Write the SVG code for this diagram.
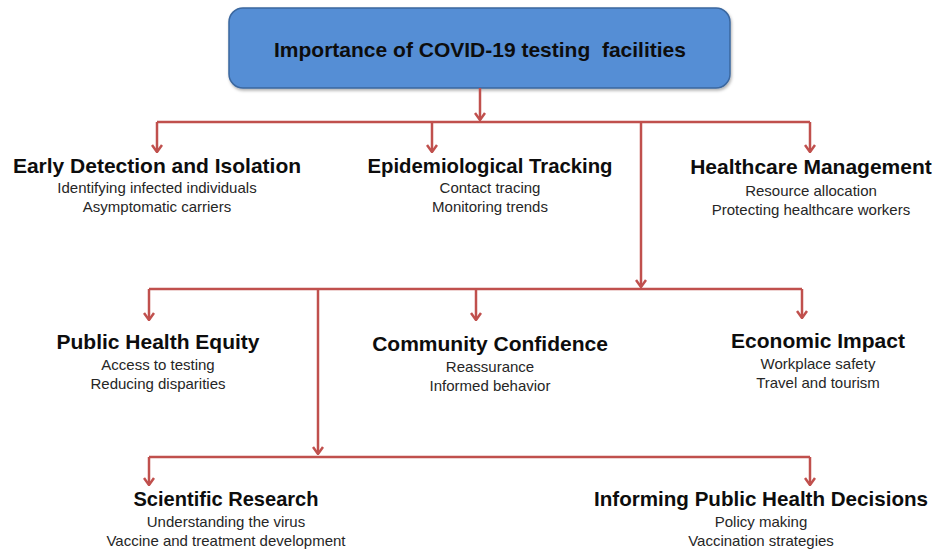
<svg xmlns="http://www.w3.org/2000/svg" width="951" height="550" viewBox="0 0 951 550">
<style>
.t{font-family:"Liberation Sans",Arial,sans-serif;font-weight:bold;font-size:21px;fill:#0d0d0d;text-anchor:middle}
.s{font-family:"Liberation Sans",Arial,sans-serif;font-size:15px;fill:#262626;text-anchor:middle}
.c{fill:none;stroke:#C0504D;stroke-width:2.5}
</style>
<defs>
<marker id="ah" markerWidth="12" markerHeight="10" viewBox="0 0 12 10" refX="6" refY="9" orient="0" markerUnits="userSpaceOnUse">
<path d="M1,2 L6,9 L11,2" fill="none" stroke="#C0504D" stroke-width="2.5"/>
</marker>
<filter id="sh" x="-5%" y="-5%" width="110%" height="120%">
<feDropShadow dx="1" dy="2" stdDeviation="1.5" flood-color="#000" flood-opacity="0.3"/>
</filter>
</defs>
<rect width="951" height="550" fill="#fff"/>
<g id="root">
<rect x="229" y="8" width="501" height="80" rx="14" fill="#558ED5" stroke="#3B679F" stroke-width="1.5" filter="url(#sh)"/>
<text class="t" x="480" y="57" xml:space="preserve">Importance of COVID-19 testing  facilities</text>
</g>
<g id="connectors">
<path class="c" d="M480,88 V120" marker-end="url(#ah)"/>
<path class="c" d="M157,122 H810"/>
<path class="c" d="M157,122 V152" marker-end="url(#ah)"/>
<path class="c" d="M432,122 V152" marker-end="url(#ah)"/>
<path class="c" d="M810,122 V152" marker-end="url(#ah)"/>
<path class="c" d="M641,122 V287" marker-end="url(#ah)"/>
<path class="c" d="M149,289 H802"/>
<path class="c" d="M149,289 V320" marker-end="url(#ah)"/>
<path class="c" d="M476,289 V320" marker-end="url(#ah)"/>
<path class="c" d="M802,289 V318" marker-end="url(#ah)"/>
<path class="c" d="M318,289 V454" marker-end="url(#ah)"/>
<path class="c" d="M149,457 H810"/>
<path class="c" d="M149,457 V485" marker-end="url(#ah)"/>
<path class="c" d="M810,457 V485" marker-end="url(#ah)"/>
</g>
<g id="early">
<text class="t" x="157" y="173">Early Detection and Isolation</text>
<text class="s" x="157" y="193">Identifying infected individuals</text>
<text class="s" x="157" y="212">Asymptomatic carriers</text>
</g>
<g id="epi">
<text class="t" x="490" y="173" textLength="245" lengthAdjust="spacingAndGlyphs">Epidemiological Tracking</text>
<text class="s" x="490" y="193">Contact tracing</text>
<text class="s" x="490" y="212">Monitoring trends</text>
</g>
<g id="healthcare">
<text class="t" x="811" y="174">Healthcare Management</text>
<text class="s" x="811" y="196">Resource allocation</text>
<text class="s" x="811" y="215">Protecting healthcare workers</text>
</g>
<g id="equity">
<text class="t" x="158" y="349">Public Health Equity</text>
<text class="s" x="158" y="370">Access to testing</text>
<text class="s" x="158" y="389">Reducing disparities</text>
</g>
<g id="community">
<text class="t" x="490" y="351">Community Confidence</text>
<text class="s" x="490" y="372">Reassurance</text>
<text class="s" x="490" y="391">Informed behavior</text>
</g>
<g id="economic">
<text class="t" x="818" y="348">Economic Impact</text>
<text class="s" x="818" y="369">Workplace safety</text>
<text class="s" x="818" y="388">Travel and tourism</text>
</g>
<g id="research">
<text class="t" x="226" y="506" textLength="185" lengthAdjust="spacingAndGlyphs">Scientific Research</text>
<text class="s" x="226" y="527">Understanding the virus</text>
<text class="s" x="226" y="546">Vaccine and treatment development</text>
</g>
<g id="decisions">
<text class="t" x="761" y="506" textLength="334" lengthAdjust="spacingAndGlyphs">Informing Public Health Decisions</text>
<text class="s" x="761" y="527">Policy making</text>
<text class="s" x="761" y="546">Vaccination strategies</text>
</g>
</svg>
